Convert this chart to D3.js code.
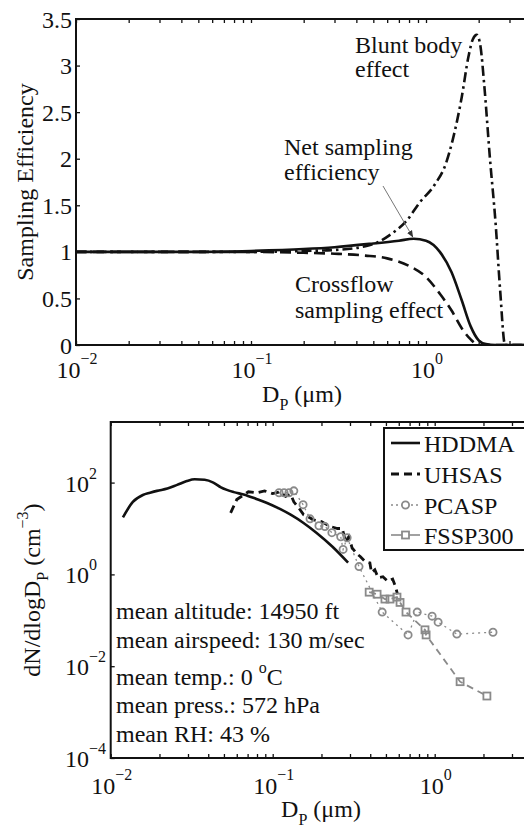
<!DOCTYPE html>
<html><head><meta charset="utf-8">
<script src="https://cdn.jsdelivr.net/npm/d3@7"></script>
<style>
html,body{margin:0;padding:0;background:#fff;}
svg{display:block;}
</style></head>
<body>
<svg id="chart" width="524" height="827" font-family="'Liberation Serif', 'Times New Roman', Times, 'DejaVu Serif', serif"></svg>
<script>
// ---------- Top panel data: sampling efficiency vs particle diameter ----------
const netD  = [0.01, 0.05, 0.1, 0.2, 0.3, 0.5, 0.7, 0.85, 1.0, 1.2, 1.4, 1.6, 1.8, 2.0, 2.2, 2.5, 4];
const netE  = [1.0, 1.0, 1.01, 1.03, 1.05, 1.09, 1.12, 1.14, 1.12, 1.0, 0.78, 0.48, 0.2, 0.05, 0.01, 0, 0];
const crossD = [0.01, 0.1, 0.2, 0.3, 0.45, 0.6, 0.8, 1.0, 1.2, 1.4, 1.6, 1.8, 2.0, 4];
const crossE = [1.0, 1.0, 0.99, 0.98, 0.96, 0.93, 0.85, 0.73, 0.55, 0.37, 0.18, 0.06, 0.0, 0];
const bluntD = [0.01, 0.1, 0.2, 0.3, 0.45, 0.54, 0.62, 0.78, 0.92, 1.12, 1.3, 1.42, 1.6, 1.75, 1.85, 1.95, 2.05, 2.15, 2.32, 2.5, 2.65, 2.83, 4];
const bluntE = [1.0, 1.0, 1.01, 1.02, 1.06, 1.11, 1.18, 1.34, 1.53, 1.72, 1.95, 2.2, 2.66, 3.1, 3.28, 3.33, 3.2, 2.8, 2.0, 1.3, 0.6, 0.0, 0.0];
const topYTicks = [0, 0.5, 1, 1.5, 2, 2.5, 3, 3.5];
const topYLabels = ["0", "0.5", "1", "1.5", "2", "2.5", "3", "3.5"];

// ---------- Bottom panel data: size distributions ----------
const hddmaD = [0.0119, 0.0137, 0.0158, 0.0175, 0.0193, 0.0224, 0.0257, 0.0295, 0.0330, 0.0380, 0.0430, 0.0479, 0.0575, 0.0661, 0.0794, 0.0923, 0.110, 0.129, 0.155, 0.186, 0.234, 0.292];
const hddmaN = [17.4, 38, 53.7, 60, 66, 74, 89, 108, 118, 115, 100, 79, 62, 55, 44, 36, 27, 20, 13.2, 8.1, 4.0, 1.8];
const uhsasD = [0.055, 0.060, 0.0708, 0.0794, 0.0891, 0.100, 0.112, 0.120, 0.129, 0.135, 0.145, 0.155, 0.166, 0.178, 0.200, 0.224, 0.251, 0.269, 0.282, 0.295, 0.309, 0.331, 0.347, 0.372, 0.398, 0.407, 0.427, 0.447, 0.479, 0.513, 0.550, 0.575, 0.589];
const uhsasN = [21.9, 42.7, 63, 60, 66, 57.5, 63, 50, 56, 38, 28, 20, 17.8, 15.5, 14.1, 11.2, 10, 10, 5, 6.6, 3.8, 2.8, 2.45, 1.9, 1.78, 1.1, 1.26, 0.85, 0.89, 0.71, 0.79, 0.52, 0.37];
const pcaspD = [0.1094, 0.1175, 0.126, 0.135, 0.154, 0.170, 0.193, 0.210, 0.232, 0.263, 0.272, 0.288, 0.341, 0.474, 0.685, 0.78, 0.964, 1.05, 1.37, 2.29];
const pcaspN = [60, 60, 60, 66, 33, 16.2, 11.5, 11, 8.1, 6.6, 3.5, 6.3, 1.48, 0.151, 0.048, 0.151, 0.123, 0.091, 0.050, 0.055];
const fsspD = [0.394, 0.441, 0.493, 0.530, 0.585, 0.611, 0.665, 0.871, 0.885, 1.435, 2.10];
const fsspN = [0.41, 0.37, 0.29, 0.29, 0.32, 0.245, 0.151, 0.062, 0.048, 0.0046, 0.00224];
const botYTicks = [1e-4, 1e-2, 1, 1e2];
const botYExp = ["−4", "−2", "0", "2"];
const xMajor = [0.01, 0.1, 1];
const xExp = ["−2", "−1", "0"];
const seriesNames = ["HDDMA", "UHSAS", "PCASP", "FSSP300"];
const infoLines = ["mean altitude: 14950 ft", "mean airspeed: 130 m/sec", "mean temp.: 0 |o|C", "mean press.: 572 hPa", "mean RH: 43 %"];

const svg = d3.select("#chart");
svg.append("rect").attr("width", 524).attr("height", 827).attr("fill", "#fff");

const FS = 24, SUP = 16, INK = "#111";
const minorTicks = [];
[0.01, 0.1, 1].forEach(b => { for (let k = 1; k <= 9; k++) { const v = b * k; if (v <= 4) minorTicks.push(v); } });

function xAxes(g, x, y0, y1) {
  g.append("g").attr("transform", `translate(0,${y0})`)
    .call(d3.axisBottom(x).tickValues(minorTicks).tickSize(-4).tickSizeOuter(0).tickFormat(""))
    .call(s => { s.select(".domain").remove(); s.selectAll("line").attr("stroke", INK).attr("stroke-width", 1.3); });
  g.append("g").attr("transform", `translate(0,${y1})`)
    .call(d3.axisTop(x).tickValues(minorTicks).tickSize(-4).tickSizeOuter(0).tickFormat(""))
    .call(s => { s.select(".domain").remove(); s.selectAll("line").attr("stroke", INK).attr("stroke-width", 1.3); });
}

// ================= TOP PANEL =================
const xT = d3.scaleLog().domain([0.01, 4]).range([76, 76 + 175 * Math.log10(400)]);
const yT = d3.scaleLinear().domain([0, 3.5]).range([345, 19]);
const gT = svg.append("g");
gT.append("clipPath").attr("id", "clipT").append("rect")
  .attr("x", xT.range()[0]).attr("y", yT(3.5)).attr("width", xT.range()[1] - xT.range()[0]).attr("height", yT(0) - yT(3.5));

xAxes(gT, xT, yT(0), yT(3.5));
gT.append("g").attr("transform", `translate(${xT.range()[0]},0)`)
  .call(d3.axisRight(yT).tickValues(topYTicks).tickSize(4).tickFormat(""))
  .call(s => { s.select(".domain").remove(); s.selectAll("line").attr("stroke", INK).attr("stroke-width", 1.3); });

const lineT = (D, E) => d3.line().x((d, i) => xT(D[i])).y((d, i) => yT(E[i])).curve(d3.curveMonotoneX)(D);
const plotT = gT.append("g").attr("clip-path", "url(#clipT)");
plotT.append("path").attr("d", lineT(bluntD, bluntE)).attr("fill", "none").attr("stroke", INK).attr("stroke-width", 2.6).attr("stroke-dasharray", "10,4,2.5,4");
plotT.append("path").attr("d", lineT(crossD, crossE)).attr("fill", "none").attr("stroke", INK).attr("stroke-width", 2.6).attr("stroke-dasharray", "11,6");
plotT.append("path").attr("d", lineT(netD, netE)).attr("fill", "none").attr("stroke", INK).attr("stroke-width", 2.6);

gT.append("path").attr("d", `M${xT.range()[1]},${yT(3.5)}H${xT.range()[0]}V${yT(0)}H${xT.range()[1]}`)
  .attr("fill", "none").attr("stroke", INK).attr("stroke-width", 2);

topYTicks.forEach((v, i) => {
  gT.append("text").attr("x", 72).attr("y", yT(v) + 8.5).attr("text-anchor", "end").attr("font-size", FS).attr("fill", INK).text(topYLabels[i]);
});
function xLabel(g, x, v, e, yBase) {
  const t = g.append("text").attr("x", x(v) + 1).attr("y", yBase).attr("text-anchor", "middle").attr("font-size", FS).attr("fill", INK);
  t.append("tspan").text("10");
  t.append("tspan").attr("font-size", SUP).attr("dy", -14).text(e);
}
xMajor.forEach((v, i) => xLabel(gT, xT, v, xExp[i], 378));

function dpTitle(g, cx, yb) {
  const t = g.append("text").attr("x", cx).attr("y", yb).attr("text-anchor", "middle").attr("font-size", FS).attr("fill", INK);
  t.append("tspan").text("D");
  t.append("tspan").attr("font-size", SUP).attr("dy", 8).text("P");
  t.append("tspan").attr("dy", -8).text(" (μm)");
}
dpTitle(gT, 302, 402);
gT.append("text").attr("transform", "translate(33,182) rotate(-90)").attr("text-anchor", "middle").attr("font-size", FS).attr("fill", INK).text("Sampling Efficiency");

const ann = (x, y, s) => gT.append("text").attr("x", x).attr("y", y).attr("font-size", FS).attr("fill", INK).text(s);
ann(355, 53, "Blunt body"); ann(355, 77, "effect");
ann(284, 155, "Net sampling"); ann(284, 180, "efficiency");
ann(295, 292, "Crossflow"); ann(295, 318, "sampling effect");
svg.append("defs").append("marker").attr("id", "ah").attr("viewBox", "0 0 10 10").attr("refX", 9).attr("refY", 5)
  .attr("markerWidth", 7).attr("markerHeight", 7).attr("orient", "auto")
  .append("path").attr("d", "M0,1L10,5L0,9z").attr("fill", "#333");
gT.append("line").attr("x1", 383).attr("y1", 186).attr("x2", xT(0.84)).attr("y2", yT(1.16))
  .attr("stroke", "#777").attr("stroke-width", 1).attr("marker-end", "url(#ah)");

// ================= BOTTOM PANEL =================
const xB = d3.scaleLog().domain([0.01, 4]).range([110.7, 110.7 + 162 * Math.log10(400)]);
const yB = d3.scaleLog().domain([1e-4, Math.pow(10, 3.32)]).range([758, 422]);
const gB = svg.append("g");
gB.append("clipPath").attr("id", "clipB").append("rect")
  .attr("x", xB.range()[0]).attr("y", yB.range()[1]).attr("width", xB.range()[1] - xB.range()[0]).attr("height", yB.range()[0] - yB.range()[1]);
xAxes(gB, xB, yB.range()[0], yB.range()[1]);
gB.append("g").attr("transform", `translate(${xB.range()[0]},0)`)
  .call(d3.axisRight(yB).tickValues(botYTicks).tickSize(4).tickFormat(""))
  .call(s => { s.select(".domain").remove(); s.selectAll("line").attr("stroke", INK).attr("stroke-width", 1.3); });

const lineB = (D, N) => d3.line().x((d, i) => xB(D[i])).y((d, i) => yB(N[i]))(D);
const plotB = gB.append("g").attr("clip-path", "url(#clipB)");
const GRAY = "#8a8a8a";
plotB.append("path").attr("d", d3.line().x((d, i) => xB(hddmaD[i])).y((d, i) => yB(hddmaN[i])).curve(d3.curveMonotoneX)(hddmaD))
  .attr("fill", "none").attr("stroke", INK).attr("stroke-width", 2.6);
plotB.append("path").attr("d", lineB(fsspD, fsspN)).attr("fill", "none").attr("stroke", GRAY).attr("stroke-width", 1.8).attr("stroke-dasharray", "7,5");
plotB.append("path").attr("d", lineB(pcaspD, pcaspN)).attr("fill", "none").attr("stroke", GRAY).attr("stroke-width", 1.3).attr("stroke-dasharray", "2,4");
plotB.append("path").attr("d", lineB(uhsasD, uhsasN)).attr("fill", "none").attr("stroke", INK).attr("stroke-width", 2.8).attr("stroke-dasharray", "8,5");
plotB.selectAll("circle.pc").data(pcaspD).join("circle").attr("class", "pc")
  .attr("cx", (d) => xB(d)).attr("cy", (d, i) => yB(pcaspN[i])).attr("r", 3.6)
  .attr("fill", "none").attr("stroke", GRAY).attr("stroke-width", 1.8);
plotB.selectAll("rect.fs").data(fsspD).join("rect").attr("class", "fs")
  .attr("x", (d) => xB(d) - 3.5).attr("y", (d, i) => yB(fsspN[i]) - 3.5).attr("width", 7).attr("height", 7)
  .attr("fill", "none").attr("stroke", GRAY).attr("stroke-width", 1.8);

gB.append("path").attr("d", `M${xB.range()[1]},${yB.range()[1]}H${xB.range()[0]}V${yB.range()[0]}H${xB.range()[1]}`)
  .attr("fill", "none").attr("stroke", INK).attr("stroke-width", 2);

botYTicks.forEach((v, i) => {
  const t = gB.append("text").attr("x", 65).attr("y", yB(v) + 9).attr("font-size", FS).attr("fill", INK);
  t.append("tspan").text("10");
  t.append("tspan").attr("font-size", SUP).attr("dy", -13).text(botYExp[i]);
});
xMajor.forEach((v, i) => xLabel(gB, xB, v, xExp[i], 794));
dpTitle(gB, 321, 817);
{
  const t = gB.append("text").attr("transform", "translate(40,590) rotate(-90)").attr("text-anchor", "middle").attr("font-size", FS).attr("fill", INK);
  t.append("tspan").text("dN/dlogD");
  t.append("tspan").attr("font-size", SUP).attr("dy", 8).text("P");
  t.append("tspan").attr("dy", -8).text(" (cm");
  t.append("tspan").attr("font-size", SUP).attr("dy", -12).text("−3");
  t.append("tspan").attr("dy", 12).text(")");
}

const infoY = [619, 648, 685, 713, 742];
infoLines.forEach((s, i) => {
  const t = gB.append("text").attr("x", 116).attr("y", infoY[i]).attr("font-size", FS).attr("fill", INK);
  const parts = s.split("|");
  t.append("tspan").text(parts[0]);
  if (parts.length > 1) {
    t.append("tspan").attr("font-size", SUP).attr("dy", -12).text(parts[1]);
    t.append("tspan").attr("dy", 12).text(parts[2]);
  }
});

const lg = gB.append("g");
lg.append("rect").attr("x", 384).attr("y", 428).attr("width", 160).attr("height", 122).attr("fill", "#fff").attr("stroke", INK).attr("stroke-width", 2);
const legY = [443, 474, 505, 535];
const legStyle = [
  { c: INK, w: 2.6, da: null, m: null },
  { c: INK, w: 2.8, da: "8,5", m: null },
  { c: GRAY, w: 1.3, da: "2,3", m: "c" },
  { c: GRAY, w: 1.6, da: null, m: "s" }
];
seriesNames.forEach((n, i) => {
  const st = legStyle[i];
  const l = lg.append("line").attr("x1", 391).attr("x2", 420).attr("y1", legY[i]).attr("y2", legY[i])
    .attr("stroke", st.c).attr("stroke-width", st.w);
  if (st.da) l.attr("stroke-dasharray", st.da);
  if (st.m === "c") lg.append("circle").attr("cx", 405.5).attr("cy", legY[i]).attr("r", 3.6).attr("fill", "#fff").attr("stroke", st.c).attr("stroke-width", 1.8);
  if (st.m === "s") lg.append("rect").attr("x", 402).attr("y", legY[i] - 3.5).attr("width", 7).attr("height", 7).attr("fill", "#fff").attr("stroke", st.c).attr("stroke-width", 1.8);
  lg.append("text").attr("x", 424).attr("y", legY[i] + 8.5).attr("font-size", FS).attr("fill", INK).text(n);
});
</script>
</body></html>
